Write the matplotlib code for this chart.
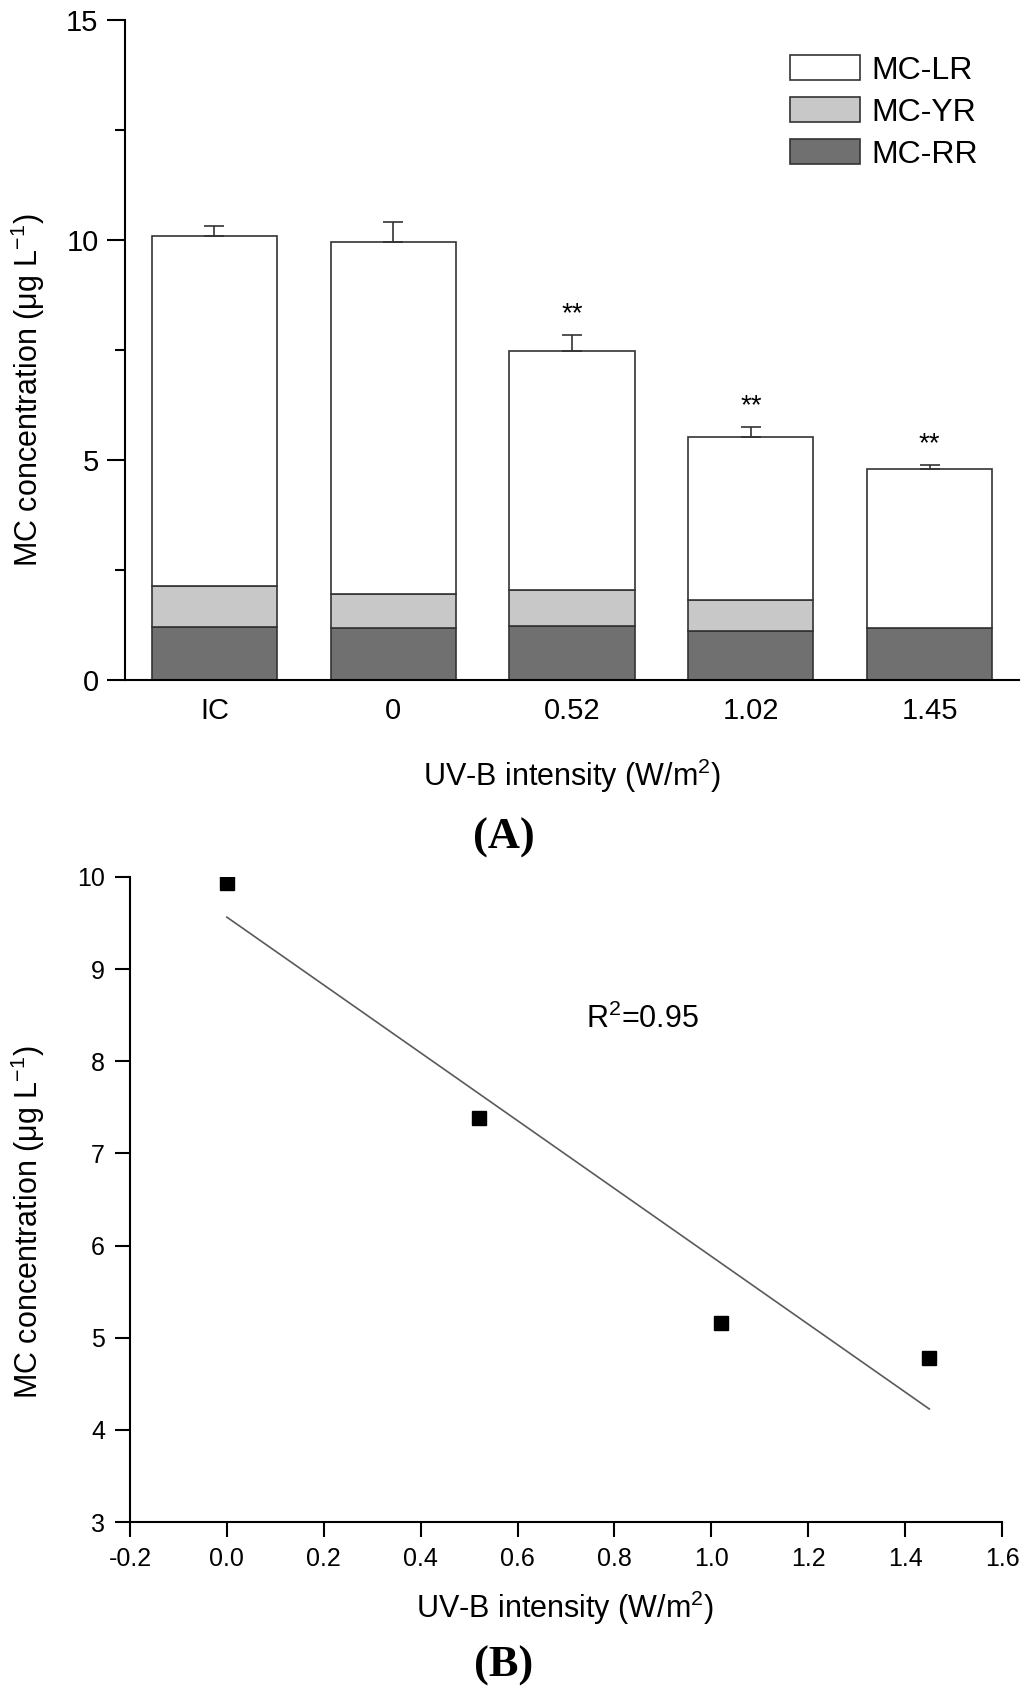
import numpy as np
import matplotlib.pyplot as plt
from matplotlib.ticker import MultipleLocator, FormatStrFormatter

plt.rcParams['font.family'] = ['Liberation Sans', 'DejaVu Sans']
plt.rcParams['mathtext.fontset'] = 'custom'
plt.rcParams['mathtext.rm'] = 'Liberation Sans'
plt.rcParams['mathtext.default'] = 'regular'
plt.rcParams['axes.unicode_minus'] = False

# panel A: stacked MC fractions per UV-B treatment
groups = ['IC', '0', '0.52', '1.02', '1.45']
mc_rr = [1.20, 1.19, 1.22, 1.11, 1.18]
mc_yr = [0.94, 0.77, 0.82, 0.70, 0.0]
mc_lr = [7.95, 7.99, 5.43, 3.71, 3.62]
total_err = [0.23, 0.46, 0.36, 0.22, 0.09]
signif = ['', '', '**', '**', '**']

# panel B: total MC vs UV-B intensity
uvb = [0.0, 0.52, 1.02, 1.45]
mc_total = [9.93, 7.38, 5.16, 4.78]
r2_text = 'R$^2$=0.95'

W, H = 1024, 1695
fig = plt.figure(figsize=(W / 100, H / 100), dpi=100)

edge = '#333333'

# ---- (A) ----
ax1 = fig.add_axes([125 / W, 1 - 680 / H, (1019 - 125) / W, (680 - 20) / H])
x = np.arange(len(groups))
rr = np.array(mc_rr)
yr = np.array(mc_yr)
lr = np.array(mc_lr)
top = rr + yr + lr

b_rr = ax1.bar(x, rr, 0.7, color='#707070', edgecolor=edge, linewidth=1.2, label='MC-RR')
b_yr = ax1.bar(x, yr, 0.7, bottom=rr, color='#c8c8c8', edgecolor=edge, linewidth=1.2, label='MC-YR')
b_lr = ax1.bar(x, lr, 0.7, bottom=rr + yr, color='white', edgecolor=edge, linewidth=1.2, label='MC-LR')
ax1.errorbar(x, top, yerr=[np.zeros(len(x)), total_err], fmt='none', ecolor=edge,
             elinewidth=1.2, capsize=7, capthick=1.2)
for i, s in enumerate(signif):
    if s:
        ax1.text(x[i], top[i] + total_err[i] + 0.48, s, ha='center', va='center', fontsize=20)

ax1.set_xlim(-0.5, 4.5)
ax1.set_ylim(0, 15)
ax1.set_xticks(x)
ax1.set_xticklabels(groups)
ax1.yaxis.set_major_locator(MultipleLocator(5))
ax1.yaxis.set_minor_locator(MultipleLocator(2.5))
ax1.tick_params(axis='x', length=0, labelsize=21, pad=12)
ax1.tick_params(axis='y', which='major', length=13, width=1.5, labelsize=21, pad=6)
ax1.tick_params(axis='y', which='minor', length=7, width=1.5)
for sp in ['top', 'right']:
    ax1.spines[sp].set_visible(False)
for sp in ['left', 'bottom']:
    ax1.spines[sp].set_linewidth(1.5)

ax1.legend(handles=[b_lr, b_yr, b_rr], loc='upper left', bbox_to_anchor=(790 / W, 1 - 55 / H),
           bbox_transform=fig.transFigure, frameon=False, fontsize=23, borderpad=0,
           handlelength=2.2, handleheight=0.85, handletextpad=0.35, labelspacing=0.35,
           borderaxespad=0)

fig.text(28 / W, 1 - 390 / H, 'MC concentration (μg L$^{-1}$)', rotation=90,
         ha='center', va='center', fontsize=22)
fig.text(572 / W, 1 - 776 / H, 'UV-B intensity (W/m$^2$)', ha='center', va='center', fontsize=22)
fig.text(504 / W, 1 - 838 / H, '(A)', ha='center', va='center', fontsize=32,
         fontweight='bold', family='Liberation Serif')

# ---- (B) ----
ax2 = fig.add_axes([130 / W, 1 - 1522 / H, (1002 - 130) / W, (1522 - 877) / H])
ax2.plot(uvb, mc_total, 's', color='black', markersize=10.5)
slope, icpt = np.polyfit(uvb, mc_total, 1)
xs = np.array([min(uvb), max(uvb)])
ax2.plot(xs, slope * xs + icpt, color='#5a5a5a', linewidth=1.2)
ax2.text(0.742, 8.45, r2_text, ha='left', va='center', fontsize=22)

ax2.set_xlim(-0.2, 1.6)
ax2.set_ylim(3, 10)
ax2.set_xticks(np.arange(-0.2, 1.61, 0.2))
ax2.xaxis.set_major_formatter(FormatStrFormatter('%.1f'))
ax2.yaxis.set_major_locator(MultipleLocator(1))
ax2.tick_params(length=11, width=1.5, labelsize=18, pad=7)
for sp in ['top', 'right']:
    ax2.spines[sp].set_visible(False)
for sp in ['left', 'bottom']:
    ax2.spines[sp].set_linewidth(1.5)

fig.text(28 / W, 1 - 1222 / H, 'MC concentration (μg L$^{-1}$)', rotation=90,
         ha='center', va='center', fontsize=22)
fig.text(565 / W, 1 - 1608 / H, 'UV-B intensity (W/m$^2$)', ha='center', va='center', fontsize=22)
fig.text(504 / W, 1 - 1666 / H, '(B)', ha='center', va='center', fontsize=32,
         fontweight='bold', family='Liberation Serif')

fig.savefig('out.png', dpi=100, facecolor='white')
